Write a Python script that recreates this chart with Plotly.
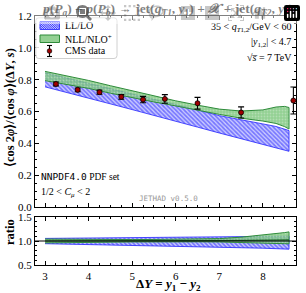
import plotly.graph_objects as go

# ---------------- data ----------------
band_x = [3.0, 3.5, 4.0, 4.5, 5.0, 5.5, 6.0, 6.5, 7.0, 7.5, 8.0, 8.3, 8.5, 8.6]

ll_upper = [0.843, 0.810, 0.778, 0.745, 0.712, 0.680, 0.645, 0.610, 0.574, 0.546, 0.522, 0.506, 0.490, 0.480]
ll_lower = [0.755, 0.720, 0.684, 0.648, 0.612, 0.575, 0.540, 0.502, 0.465, 0.430, 0.395, 0.372, 0.357, 0.350]

nll_upper = [0.852, 0.825, 0.795, 0.762, 0.730, 0.697, 0.667, 0.640, 0.615, 0.603, 0.610, 0.628, 0.632, 0.625]
nll_lower = [0.794, 0.770, 0.745, 0.715, 0.686, 0.660, 0.635, 0.610, 0.582, 0.558, 0.540, 0.525, 0.505, 0.490]

ll_ratio_upper = [1.054, 1.058, 1.062, 1.066, 1.070, 1.074, 1.078, 1.082, 1.086, 1.090, 1.094, 1.096, 1.099, 1.100]
ll_ratio_lower = [0.944, 0.935, 0.926, 0.917, 0.908, 0.899, 0.890, 0.880, 0.870, 0.860, 0.850, 0.842, 0.835, 0.830]

nll_ratio_upper = [1.040, 1.035, 1.030, 1.030, 1.030, 1.032, 1.035, 1.042, 1.050, 1.080, 1.120, 1.150, 1.175, 1.190]
nll_ratio_lower = [0.960, 0.965, 0.970, 0.975, 0.980, 0.983, 0.985, 0.983, 0.980, 0.970, 0.960, 0.950, 0.944, 0.940]
nll_ratio_central = [1.000, 1.000, 1.000, 1.002, 1.004, 1.006, 1.008, 1.010, 1.012, 1.015, 1.018, 1.020, 1.022, 1.024]

cms_x = [3.25, 3.75, 4.25, 4.75, 5.25, 5.75, 6.5, 7.5, 8.7]
cms_y = [0.773, 0.736, 0.721, 0.692, 0.675, 0.679, 0.652, 0.594, 0.669]
cms_err = [0.012, 0.012, 0.013, 0.015, 0.020, 0.027, 0.037, 0.035, 0.085]

x_ticks = [3, 4, 5, 6, 7, 8]
main_y_ticks = [0.0, 0.2, 0.4, 0.6, 0.8, 1.0, 1.2]
ratio_y_ticks = [0.5, 1.0, 1.5]

legend_labels = ["LL/LO", "NLL/NLO<sup>+</sup>", "CMS data"]

# ---------------- styles / geometry ----------------
SERIF = "Liberation Serif"
BLUE = "#1f1fff"
BLUE_BG = "rgba(185,185,255,0.75)"
GREEN_EDGE = "#2e8b3a"
GREEN_FILL = "rgba(120,196,120,0.8)"
W, H = 306, 293
ML, MR, MT, MB = 35, 10, 16, 28
PW, PH = W - ML - MR, H - MT - MB


def PX(p):  # pixel x -> paper x
    return (p - ML) / PW


def PY(p):  # pixel y (from top) -> paper y
    return (H - MB - p) / PH


fig = go.Figure()


def band(xs, up, lo, name, kind, xaxis, yaxis):
    px = list(xs) + list(xs)[::-1]
    py = list(up) + list(lo)[::-1]
    if kind == "ll":
        return go.Scatter(
            x=px, y=py, fill="toself", mode="lines", name=name,
            line=dict(color=BLUE, width=0.8),
            fillcolor=BLUE_BG,
            fillpattern=dict(shape="\\", fgcolor=BLUE, bgcolor=BLUE_BG, size=3, solidity=0.55),
            xaxis=xaxis, yaxis=yaxis, showlegend=False, hoverinfo="skip",
        )
    return go.Scatter(
        x=px, y=py, fill="toself", mode="lines", name=name,
        line=dict(color=GREEN_EDGE, width=1.0),
        fillcolor=GREEN_FILL,
        fillpattern=dict(shape=".", fgcolor="rgba(215,240,215,0.9)", bgcolor=GREEN_FILL,
                         size=3, solidity=0.3),
        xaxis=xaxis, yaxis=yaxis, showlegend=False, hoverinfo="skip",
    )


fig.add_trace(band(band_x, ll_upper, ll_lower, legend_labels[0], "ll", "x", "y"))
fig.add_trace(band(band_x, nll_upper, nll_lower, legend_labels[1], "nll", "x", "y"))
fig.add_trace(go.Scatter(
    x=cms_x, y=cms_y, mode="markers", name=legend_labels[2],
    marker=dict(color="#a00000", size=5, line=dict(color="black", width=0.8)),
    error_y=dict(type="data", array=cms_err, color="black", thickness=1.1, width=3),
    xaxis="x", yaxis="y", cliponaxis=False, showlegend=False,
))

# ratio panel
fig.add_trace(band(band_x, ll_ratio_upper, ll_ratio_lower, "LL/LO", "ll", "x2", "y2"))
fig.add_trace(band(band_x, nll_ratio_upper, nll_ratio_lower, "NLL", "nll", "x2", "y2"))
fig.add_trace(go.Scatter(x=band_x, y=nll_ratio_central, mode="lines",
                         line=dict(color="#1f6b2a", width=1.2),
                         xaxis="x2", yaxis="y2", showlegend=False, hoverinfo="skip"))

shapes = [dict(type="line", xref="x2 domain", yref="y2", x0=0, x1=1, y0=1, y1=1,
               line=dict(color="black", width=1.2))]

# ---------- hand-made legend (matplotlib style) ----------
bx0, bx1, by0, by1, r = 35.8, 117, 17.8, 58.5, 3
rx, ry = r / PW, r / PH
X0, X1, Y0, Y1 = PX(bx0), PX(bx1), PY(by0), PY(by1)
box_path = (f"M {X0+rx},{Y0} L {X1-rx},{Y0} Q {X1},{Y0} {X1},{Y0-ry} "
            f"L {X1},{Y1+ry} Q {X1},{Y1} {X1-rx},{Y1} L {X0+rx},{Y1} Q {X0},{Y1} {X0},{Y1+ry} "
            f"L {X0},{Y0-ry} Q {X0},{Y0} {X0+rx},{Y0} Z")
shapes.append(dict(type="path", xref="paper", yref="paper", path=box_path,
                   fillcolor="rgba(255,255,255,0.85)", line=dict(color="#d0d0d0", width=1)))

# LL/LO swatch
sx0, sx1, sy0, sy1 = 40, 59.5, 21.5, 29.5
shapes.append(dict(type="rect", xref="paper", yref="paper", x0=PX(sx0), x1=PX(sx1), y0=PY(sy1), y1=PY(sy0),
                   fillcolor=BLUE_BG, line=dict(color=BLUE, width=0.8)))
segs = []
c = sx0 - sy1
while c < sx1 - sy0:
    xa, ya = max(sx0, c + sy0), max(sx0, c + sy0) - c
    xb, yb = min(sx1, c + sy1), min(sx1, c + sy1) - c
    if xb > xa:
        segs.append(f"M {PX(xa)},{PY(ya)} L {PX(xb)},{PY(yb)}")
    c += 2.2
shapes.append(dict(type="path", xref="paper", yref="paper", path=" ".join(segs),
                   line=dict(color=BLUE, width=0.9)))
# NLL swatch
gy0, gy1 = 35, 42.5
shapes.append(dict(type="rect", xref="paper", yref="paper", x0=PX(sx0), x1=PX(sx1), y0=PY(gy1), y1=PY(gy0),
                   fillcolor=GREEN_FILL, line=dict(color=GREEN_EDGE, width=1)))
# CMS symbol
cx, cy = 49.5, 51
shapes.append(dict(type="line", xref="paper", yref="paper", x0=PX(cx), x1=PX(cx), y0=PY(cy - 5.5), y1=PY(cy + 5.5),
                   line=dict(color="black", width=1.1)))
for yy in (cy - 5.5, cy + 5.5):
    shapes.append(dict(type="line", xref="paper", yref="paper", x0=PX(cx - 2.5), x1=PX(cx + 2.5), y0=PY(yy), y1=PY(yy),
                       line=dict(color="black", width=1.1)))
shapes.append(dict(type="circle", xref="paper", yref="paper", x0=PX(cx - 2.3), x1=PX(cx + 2.3),
                   y0=PY(cy + 2.3), y1=PY(cy - 2.3), fillcolor="#a00000", line=dict(color="black", width=0.7)))

XR = [2.77, 8.76]
tickfont = dict(family=SERIF, size=11, color="black")
axis_common = dict(showline=True, linecolor="black", linewidth=1, mirror="allticks",
                   ticks="inside", ticklen=4, tickwidth=1, tickcolor="black",
                   showgrid=False, zeroline=False, tickfont=tickfont, automargin=False)


def minor(dt):
    return dict(ticks="inside", ticklen=2, tickwidth=0.8, tickcolor="black", dtick=dt, showgrid=False)


fig.update_layout(
    width=W, height=H, autosize=False,
    margin=dict(l=ML, r=MR, t=MT, b=MB, autoexpand=False),
    paper_bgcolor="white", plot_bgcolor="white",
    xaxis=dict(domain=[0, 1], range=XR, autorange=False, anchor="y", tickmode="array",
               tickvals=x_ticks, showticklabels=False, minor=minor(0.25), **axis_common),
    yaxis=dict(domain=[PY(207), 1], range=[0, 1.2], autorange=False, anchor="x", tickmode="array",
               tickvals=main_y_ticks, tickformat=".1f", minor=minor(0.05), **axis_common),
    xaxis2=dict(domain=[0, 1], range=XR, autorange=False, anchor="y2", tickmode="array",
                tickvals=x_ticks, minor=minor(0.25), ticklabelstandoff=1, **axis_common),
    yaxis2=dict(domain=[0, PY(217)], range=[0.5, 1.5], autorange=False, anchor="x2", tickmode="array",
                tickvals=ratio_y_ticks, tickformat=".1f", minor=minor(0.1), **axis_common),
    showlegend=False,
    shapes=shapes,
)

ann = []


def text(px_, py_, t, size=10, xanchor="left", family=SERIF, color="black", angle=0):
    ann.append(dict(xref="paper", yref="paper", x=PX(px_), y=PY(py_), xanchor=xanchor, yanchor="middle",
                    text=t, showarrow=False, textangle=angle,
                    font=dict(family=family, size=size, color=color)))


text(63, 25.5, legend_labels[0], 10)
text(63, 38.5, legend_labels[1], 10)
text(63, 51, legend_labels[2], 10)

text(167, 10, "<b><i>p</i>(<i>P<sub>a</sub></i>) + <i>p</i>(<i>P<sub>b</sub></i>) → jet(<i>q<sub>T1</sub></i>, <i>y</i><sub>1</sub>) + <i>𝒳</i> + jet(<i>q<sub>T2</sub></i>, <i>y</i><sub>2</sub>)</b>",
     13.5, "center")
text(293, 27, "35 &lt; <i>q</i><sub><i>T</i>1,2</sub>/GeV &lt; 60", 10, "right")
text(293, 42.5, "|<i>y</i><sub>1,2</sub>| &lt; 4.7", 10, "right")
text(294, 57.5, "√<i>s̅</i> = 7 TeV", 10, "right")
text(39, 176.5, "<span style='font-family:DejaVu Sans Mono'>NNPDF4.0</span> PDF set", 9.5)
text(39, 192, "1/2 &lt; <i>C<sub>μ</sub></i> &lt; 2", 10)
text(168.5, 198.5, "JETHAD v0.5.0", 7.5, "center", "DejaVu Sans Mono", "#999999")
text(10, 108, "<b>⟨cos 2<i>φ</i>⟩/⟨cos <i>φ</i>⟩(Δ<i>Y</i>, <i>s</i>)</b>", 12.5, "center", angle=-90)
text(10, 232, "<b>ratio</b>", 12.5, "center", angle=-90)
text(168, 284, "<b>Δ<i>Y</i> = <i>y</i><sub>1</sub> − <i>y</i><sub>2</sub></b>", 13, "center")
fig.update_layout(annotations=ann)

fig.write_html("out.html",
               post_script="document.body.style.margin='0';document.body.style.padding='0';"
                           "document.documentElement.style.overflow='hidden';")
